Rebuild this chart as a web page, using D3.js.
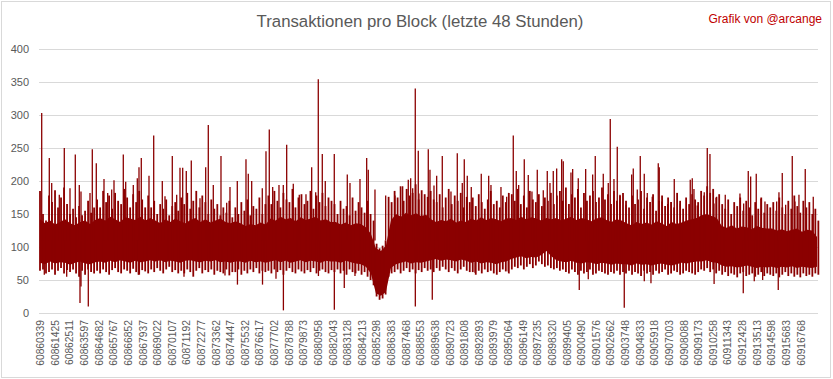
<!DOCTYPE html>
<html>
<head>
<style>
body{margin:0;background:#fff;}
svg text{font-family:"Liberation Sans",Arial,sans-serif;}
</style>
</head>
<body>
<svg id="chart" width="833" height="379"></svg>
<script src="https://cdnjs.cloudflare.com/ajax/libs/d3/7.8.5/d3.min.js"></script>
<script>
// block numbers shown on the x axis
const blockLabels = [60860339,60861425,60862511,60863597,60864682,60865767,60866852,60867937,60869022,60870107,
  60871192,60872277,60873362,60874447,60875532,60876617,60877702,60878788,60879873,60880958,
  60882043,60883128,60884213,60885298,60886383,60887468,60888553,60889638,60890723,60891808,
  60892893,60893979,60895064,60896149,60897235,60898320,60899405,60900490,60901576,60902662,
  60903748,60904833,60905918,60907003,60908088,60909173,60910258,60911343,60912428,60913513,
  60914598,60915683,60916768];
const yTicks = [0,50,100,150,200,250,300,350,400];
const firstBlock = 60860339, lastBlock = 60918070;

// solid middle of the series, per bin of 372 blocks
const bandSize = 372;
const bandTop = [142,136,140,134,138,142,136,133,138,140,135,141,
  144,140,146,142,138,145,143,141,146,140,144,
  140,136,142,138,143,139,136,141,144,138,142,137,140,143,138,136,139,
  136,132,135,133,137,134,
  143,140,146,142,144,139,145,141,143,146,140,142,138,
  138,134,137,133,136,135,130,120,
  98,94,102, 140,
  150,146,152,148,151,147,149,
  142,138,141,139,143,137,140,138,
  143,140,145,141,144,142,139,143,
  144,141,146,142,145,143,140,144,142,
  144,140,143,146,141,144,142,139,143,145,141,138,142,140,
  136,133,138,135,137,134,139,136,132,138,135,137,140,142,144,
  148,150,147,144,
  132,129,133,128,131,130,127,132,129,128,
  128,125,127,124,126,128,123,126,125,115];
const bandBottom = [76,74,78,75,77,76,73,76,78,75,74,77,
  78,76,79,77,80,78,76,79,77,78,80,
  78,80,77,79,78,76,79,80,78,77,79,78,80,77,78,76,78,
  78,76,79,77,78,76,
  78,80,77,79,76,78,80,77,79,78,76,79,78,
  78,76,79,77,75,74,70,60,
  30,26,32, 68,
  74,76,78,75,77,76,78,
  80,82,79,81,80,78,81,79,
  76,78,75,77,76,74,77,78,
  82,84,86,83,85,84,88,94,86,
  80,78,77,79,76,75,77,76,74,76,75,73,75,74,
  74,72,75,73,74,72,74,75,73,72,74,76,75,77,78,
  78,80,77,76,
  72,70,71,69,70,72,70,68,70,69,
  70,68,70,69,71,68,70,69,68,70];

// ragged edges: highest / lowest value per bin of 223 blocks
const edgeSize = 223;
const edgeHigh = [185,150,140,
  178,168,186,160,175,190,165,
  150,158,145,162,148,155,170,152,160,
  172,160,185,168,178,158,182,170,165,188,175,160,180,168,185,172,160,178,
  160,170,150,165,158,172,148,162,168,155,
  175,165,182,158,170,185,160,178,168,150,172,158,165,148,160,152,170,145,
  160,150,168,155,172,148,162,158,175,150,165,
  178,165,185,170,160,182,172,168,188,160,175,180,165,170,185,158,178,168,182,162,175,170,
  165,150,170,158,162,148,175,155,168,160,152,170,150,140,
  105,98,102,110, 176,168,
  185,175,192,170,188,178,182,195,172,186,180,176,
  185,172,168,180,160,175,188,165,178,170,182,160,176,168,
  175,162,180,168,158,172,185,165,170,160,178,168,182,
  180,170,188,165,178,160,185,172,168,180,162,175,170,182,165,
  178,185,170,190,165,180,175,188,160,182,170,178,185,168,175,190,172,180,165,185,170,178,182,
  170,160,178,165,172,185,158,175,168,180,155,170,178,162,175,168,160,182,170,158,175,165,180,172,168,
  185,178,192,182,188,175,180,
  165,158,172,150,168,162,175,155,170,160,148,168,158,175,152,165,160,
  168,155,175,160,150,170,158,178,162,152,170,160,168,150,158,140];
const edgeLow = [64,66,60,
  62,66,58,64,68,60,65,
  62,66,60,55,64,58,66,62,60,
  64,60,66,62,58,65,68,62,60,66,64,60,67,62,58,65,63,60,
  66,62,68,64,60,66,70,62,65,60,
  64,60,66,62,55,64,68,60,65,62,66,58,64,62,60,66,57,62,
  62,66,58,64,60,66,62,68,60,64,62,
  64,60,66,62,65,58,64,68,62,60,66,63,60,65,62,68,60,64,66,62,60,65,
  62,66,60,64,58,66,62,60,64,58,62,55,50,42,
  25,20,22,28, 55,60,
  62,66,60,64,68,62,66,60,65,62,68,64,
  66,62,68,64,70,66,62,68,64,60,66,70,64,62,
  62,58,64,60,66,62,64,60,58,62,66,63,60,
  66,70,68,72,66,70,74,68,72,78,74,70,72,68,66,
  68,64,66,62,60,66,62,58,64,60,62,66,58,60,64,62,60,58,62,60,64,58,62,
  60,64,58,62,60,56,64,60,62,58,64,60,62,66,58,60,64,62,58,60,64,62,60,58,62,
  66,64,68,62,66,60,64,
  58,62,56,60,58,54,60,62,56,58,60,55,58,62,56,60,58,
  56,60,54,58,62,56,60,55,58,54,60,56,58,55,60,58];

// single blocks that stand out above the band: [block, transactions]
const peaks = [[60860465,303],[60861029,235],[60861207,197],[60861771,179],[60862142,250],[60862565,189],
  [60862958,240],[60863255,194],[60863381,184],[60864049,182],[60864220,248],[60864516,227],[60865088,203],
  [60865362,182],[60865659,187],[60865830,201],[60866520,240],[60866698,199],[60867262,194],[60867559,204],
  [60867685,221],[60867855,235],[60868427,208],[60868776,269],[60869414,200],[60869614,177],[60870156,238],
  [60870482,179],[60870727,220],[60870927,220],[60871194,215],[60871565,231],[60872211,174],[60872634,221],
  [60872827,285],[60873198,194],[60873769,238],[60874192,167],[60874437,191],[60874979,200],[60875624,233],
  [60875795,211],[60876047,200],[60876834,189],[60877108,245],[60877353,278],[60877605,191],[60878073,194],
  [60878392,194],[60878644,255],[60879134,196],[60879579,179],[60880076,180],[60880499,221],[60880796,183],
  [60880989,354],[60881286,241],[60881508,200],[60882176,241],[60883141,210],[60883341,197],[60884083,203],
  [60884580,235],[60884699,217],[60885196,187],[60885990,178],[60886680,178],[60887251,192],[60887667,202],
  [60887845,204],[60887993,189],[60888186,340],[60888409,246],[60888461,181],[60889151,248],[60889277,217],
  [60889574,193],[60889774,208],[60890190,238],[60890835,184],[60891303,242],[60891674,197],[60891822,233],
  [60892045,208],[60892341,191],[60893083,211],[60893633,208],[60893803,194],[60894545,191],[60894968,176],
  [60895458,269],[60895680,215],[60895859,194],[60896274,233],[60896571,209],[60896845,184],[60897239,217],
  [60897684,186],[60897981,215],[60898181,197],[60898426,215],[60898678,219],[60899049,233],[60899168,230],
  [60899739,213],[60899865,218],[60900281,204],[60900830,218],[60901349,210],[60901542,238],[60902136,211],
  [60902507,197],[60902655,294],[60902930,203],[60903175,252],[60903375,179],[60903820,164],[60904243,210],
  [60904362,219],[60904659,187],[60904881,238],[60905178,211],[60905401,182],[60905772,176],[60906217,227],
  [60906291,221],[60906491,169],[60906914,165],[60907181,168],[60907404,203],[60907849,166],[60908591,202],
  [60908740,204],[60908866,188],[60909111,163],[60909630,183],[60909853,250],[60910053,241],[60910350,166],
  [60910550,176],[60911188,179],[60912279,181],[60912554,166],[60912895,215],[60913073,207],[60913488,211],
  [60913837,173],[60914134,169],[60915002,169],[60915173,183],[60915418,212],[60915670,164],[60916160,238],
  [60916360,169],[60916657,179],[60917124,218],[60917718,176]];
// single blocks that fall below the band
const dips = [[60860658,58],[60862320,55],[60863307,15],[60863381,40],[60863923,10],[60867633,58],[60871024,55],
  [60874066,57],[60874990,43],[60876850,43],[60877850,52],[60878400,4],[60881000,56],[60882180,5],[60882918,38],
  [60883712,56],[60888190,10],[60889448,20],[60892616,61],[60895087,63],[60900355,35],[60901023,51],[60903694,8],
  [60905180,48],[60905675,45],[60910360,44],[60912524,30],[60913340,48],[60913963,50],[60915121,35]];

const svg = d3.select('#chart');
const plotLeft = 39, plotRight = 818, plotTop = 49, plotBottom = 313;
const x = d3.scaleLinear().domain([firstBlock, lastBlock]).range([40, 818]);
const y = d3.scaleLinear().domain([0, 400]).range([plotBottom, plotTop]);
const red = '#8b0000';

svg.append('rect')
  .attr('x', 1.5).attr('y', 1.5).attr('width', 829).attr('height', 376)
  .attr('fill', '#fff').attr('stroke', '#d9d9d9');

// grid + y labels
const yAxis = svg.append('g')
  .attr('transform', `translate(${plotLeft},0)`)
  .call(d3.axisLeft(y).tickValues(yTicks).tickSize(-(plotRight - plotLeft)).tickPadding(10));
yAxis.select('.domain').remove();
yAxis.selectAll('line').attr('stroke', '#d9d9d9');
yAxis.selectAll('text').attr('fill', '#595959').style('font-size', '11px');

// x labels
const xAxis = svg.append('g')
  .attr('transform', `translate(0,${plotBottom})`)
  .call(d3.axisBottom(x).tickValues(blockLabels).tickFormat(d3.format('d')).tickSize(0));
xAxis.select('.domain').remove();
xAxis.selectAll('text')
  .attr('fill', '#595959')
  .style('font-size', '10.3px')
  .attr('text-anchor', 'end')
  .attr('transform', 'translate(0,7) rotate(-90)')
  .attr('x', 0).attr('y', 0).attr('dy', '0.35em');

// series
const series = svg.append('g');
const band = bandTop.map((t, j) => ({b: firstBlock + j * bandSize, hi: t, lo: bandBottom[j]}));
series.append('path')
  .datum(band)
  .attr('fill', red)
  .attr('d', d3.area().x(d => x(d.b)).y0(d => y(d.lo)).y1(d => y(d.hi)));

const edges = edgeHigh.map((h, k) => ({b: firstBlock + k * edgeSize, hi: h, lo: edgeLow[k]}));
series.append('g').selectAll('line')
  .data(edges)
  .enter().append('line')
  .attr('x1', d => x(d.b)).attr('x2', d => x(d.b))
  .attr('y1', d => y(d.lo)).attr('y2', d => y(d.hi))
  .attr('stroke', red).attr('stroke-width', 1.8);

series.append('g').selectAll('line')
  .data(peaks.concat(dips))
  .enter().append('line')
  .attr('x1', d => x(d[0])).attr('x2', d => x(d[0]))
  .attr('y1', y(110)).attr('y2', d => y(d[1]))
  .attr('stroke', red).attr('stroke-width', 1.3);

svg.append('text')
  .attr('x', 420).attr('y', 27)
  .attr('text-anchor', 'middle')
  .attr('fill', '#595959')
  .style('font-size', '16.8px')
  .text('Transaktionen pro Block (letzte 48 Stunden)');

svg.append('text')
  .attr('x', 822).attr('y', 23)
  .attr('text-anchor', 'end')
  .attr('fill', '#c00000')
  .style('font-size', '12px')
  .text('Grafik von @arcange');
</script>
</body>
</html>
